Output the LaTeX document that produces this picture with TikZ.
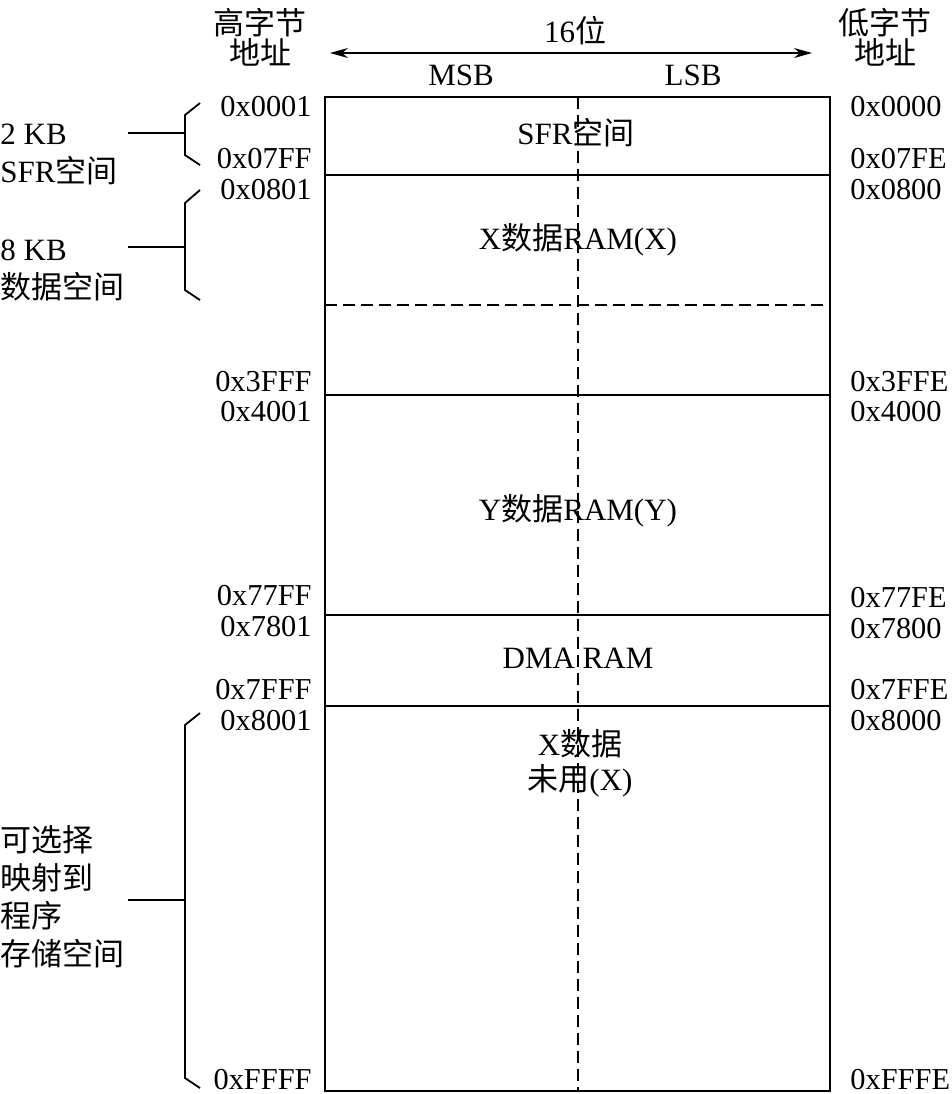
\documentclass[tikz,border=0pt]{standalone}
\usepackage{fontspec}
\setmainfont{Liberation Serif}
\newfontfamily\cjk{Noto Sans CJK SC}
\usetikzlibrary{arrows.meta,positioning}
\tikzset{
  every node/.append style={font=\fontsize{15.5}{15}\selectfont, inner sep=0pt},
  memblock/.style={line width=1.25pt},
  divline/.style={line width=0.9pt},
  dashsep/.style={divline, dash pattern=on 6pt off 3pt},
  brace/.style={line width=0.9pt},
  hiaddr/.style={anchor=east, font=\fontsize{15.2}{15}\selectfont},
  loaddr/.style={anchor=west, font=\fontsize{15.2}{15}\selectfont},
  region/.style={align=center, font=\fontsize{15.5}{17.5}\selectfont},
  side/.style={align=left, anchor=west, font=\fontsize{15.5}{19}\selectfont},
  width16/.style={{Stealth[length=9pt,width=5pt]}-{Stealth[length=9pt,width=5pt]}, line width=0.9pt},
}
\begin{document}
\begin{tikzpicture}[x=0.5pt, y=-0.5pt]
  \useasboundingbox (0,0) rectangle (952,1094);
  % memory block
  \draw[memblock] (325,97) rectangle (830,1091);
  \draw[dashsep] (578,97) -- (578,1091);
  \foreach \y in {175,395,615,706}
    \draw[divline] (325,\y) -- (830,\y);
  \draw[dashsep] (325,305) -- (830,305);

  % header
  \node[align=center] (hi) at (260,37) {{\cjk 高字节}\\{\cjk 地址}};
  \node[align=center] (lo) at (885,37) {{\cjk 低字节}\\{\cjk 地址}};
  \node (bits) at (575,31) {16{\cjk 位}};
  \coordinate (wl) at (330,53);
  \coordinate (wr) at (812,53);
  \draw[width16] (wl) -- (wr);
  \node (msb) at (461,75) {MSB};
  \node (lsb) at (693,75) {LSB};

  % regions
  \node[region] (sfr) at (576,133) {SFR{\cjk 空间}};
  \node[region] (xram) at (578,240) {X{\cjk 数据}RAM(X)};
  \node[region] (yram) at (578,511) {Y{\cjk 数据}RAM(Y)};
  \node[region] (dma) at (578,658) {DMA RAM};
  \node[region] (xfree) at (580,763) {X{\cjk 数据}\\{\cjk 未用}(X)};

  % addresses
  \foreach \a/\y [count=\i] in {0x0001/107,0x07FF/159,0x0801/190,0x3FFF/382,0x4001/412,
      0x77FF/596,0x7801/627,0x7FFF/690,0x8001/721,0xFFFF/1080}
    \node[hiaddr] (h\i) at (312,\y) {\a};
  \foreach \a/\y [count=\i] in {0x0000/107,0x07FE/159,0x0800/190,0x3FFE/382,0x4000/412,
      0x77FE/598,0x7800/629,0x7FFE/690,0x8000/721,0xFFFE/1080}
    \node[loaddr] (l\i) at (850,\y) {\a};

  % side labels
  \node[side] (sfrlbl) at (0,154) {2 KB\\SFR{\cjk 空间}};
  \node[side] (datalbl) at (0,270) {8 KB\\{\cjk 数据空间}};
  \node[side] (proglbl) at (0,897) {{\cjk 可选择}\\{\cjk 映射到}\\{\cjk 程序}\\{\cjk 存储空间}};

  % brackets
  \coordinate (b1) at (185,133);
  \coordinate (b2) at (185,247);
  \coordinate (b3) at (185,900);
  \draw[brace] (200,103) -- (185,115) -- (185,155) -- (200,165);
  \draw[brace] (200,190) -- (185,203) -- (185,290) -- (200,300);
  \draw[brace] (200,713) -- (185,725) -- (185,1078) -- (200,1088);
  \draw[brace] (128,133) -- (b1);
  \draw[brace] (128,247) -- (b2);
  \draw[brace] (128,900) -- (b3);
\end{tikzpicture}
\end{document}
